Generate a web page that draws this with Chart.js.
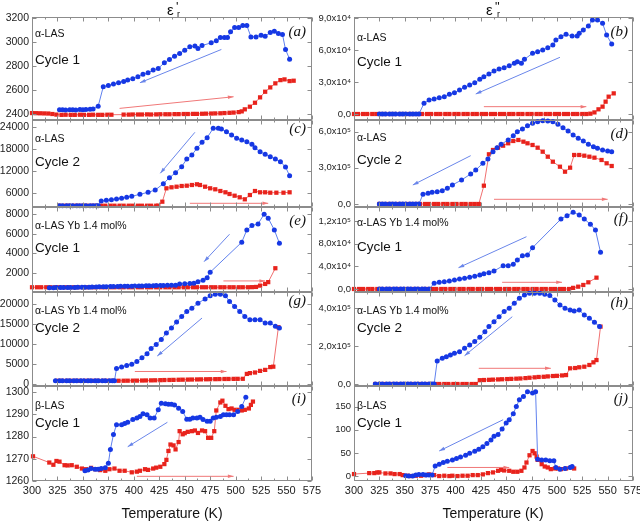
<!DOCTYPE html>
<html>
<head>
<meta charset="utf-8">
<script src="https://cdn.jsdelivr.net/npm/chart.js@4.4.0/dist/chart.umd.min.js"></script>
<style>
  body { margin: 0; background: #fff; overflow: hidden; font-family: "Liberation Sans", Arial, sans-serif; }
  #wrap { position: relative; width: 640px; height: 524px; overflow: hidden; }
  #wrap canvas { position: absolute; }
  .t { position: absolute; white-space: nowrap; color: #111; line-height: 1; }
  .it { font-family: "Liberation Serif", "Times New Roman", serif; font-style: italic; }
</style>
</head>
<body>
<div id="wrap"></div>
<script>
// temperature axis (K)
const tempTicks = [300, 325, 350, 375, 400, 425, 450, 475, 500, 525, 550, 575];

// (a) eps' alpha-LAS cycle 1
const blueA = [[327,2435],[330,2436],[333,2434],[337,2435],[340,2436],[343,2434],[347,2437],[350,2436],[353,2438],[357,2440],[360,2442],[365,2465],[370,2628],[375,2639],[380,2650],[385,2661],[390,2672],[394,2683],[399,2694],[404,2711],[409,2733],[414,2744],[419,2767],[424,2781],[430,2828],[435,2856],[440,2883],[445,2906],[450,2933],[455,2961],[460,2967],[463,2947],[467,2972],[476,2994],[481,3011],[485,3039],[489,3039],[492,3039],[495,3086],[499,3122],[503,3122],[507,3139],[511,3139],[515,3044],[520,3044],[525,3058],[529,3050],[534,3081],[538,3092],[542,3072],[546,3064],[549,2939],[553,2858]];
const redA = [[300,2408],[304,2407],[308,2406],[312,2405],[316,2404],[320,2400],[324,2395],[329,2393],[333,2394],[338,2393],[342,2393],[347,2394],[351,2393],[356,2393],[360,2394],[365,2393],[369,2393],[374,2394],[378,2394],[390,2395],[395,2395],[399,2396],[404,2396],[408,2396],[413,2397],[417,2396],[422,2397],[426,2398],[431,2398],[435,2398],[440,2399],[444,2399],[449,2400],[453,2400],[458,2401],[462,2401],[467,2402],[471,2403],[476,2404],[480,2405],[485,2406],[489,2408],[494,2410],[498,2412],[503,2416],[506,2422],[509,2439],[514,2461],[519,2494],[524,2539],[529,2586],[534,2622],[539,2656],[544,2683],[548,2689],[553,2675],[557,2678]];
const ticksA = [2400, 2600, 2800, 3000, 3200];
const labelsA = ['2400', '2600', '2800', '3000', '3200'];
const arrowsA = [[486,2939,406,2661,'b'],[386,2447,498,2544,'r']];

// (b) eps'' alpha-LAS cycle 1
const blueB = [[325,0],[328,0],[331,0],[335,0],[338,0],[341,0],[345,0],[348,0],[351,0],[355,0],[358,0],[361,0],[364,0],[369,10030],[374,13160],[379,14100],[384,15350],[389,16290],[394,18490],[399,20050],[404,22560],[409,25070],[414,27260],[419,29450],[424,32590],[428,35090],[433,37600],[438,40420],[443,42300],[448,43550],[453,45430],[458,47630],[461,49190],[465,47630],[468,51390],[476,57030],[481,58590],[486,60160],[491,62350],[496,64860],[499,69560],[504,72690],[509,74890],[515,73320],[520,73320],[522,75830],[526,78960],[531,82720],[535,88360],[540,88360],[545,85230],[549,74260],[554,65800]];
const redB = [[300,0],[304,0],[309,0],[313,0],[318,0],[322,0],[327,0],[331,0],[336,0],[340,0],[345,0],[349,0],[354,0],[358,0],[363,0],[367,0],[372,0],[376,0],[381,0],[385,0],[390,0],[394,0],[399,0],[403,0],[408,0],[412,0],[417,0],[421,0],[426,0],[430,0],[435,0],[439,0],[444,0],[448,0],[453,0],[457,0],[462,0],[466,0],[471,0],[475,0],[480,0],[484,0],[489,0],[493,0],[498,0],[502,0],[507,0],[511,0],[516,0],[520,0],[525,0],[529,0],[533,300],[537,1500],[541,4400],[545,6900],[548,11600],[551,16300],[556,19400]];
const ticksB = [0, 30000, 60000, 90000];
const labelsB = ['0,0', '3,0x10⁴', '6,0x10⁴', '9,0x10⁴'];
const arrowsB = [[503,53300,420,18800,'b'],[428,6900,529,6900,'r']];

// (c) eps' alpha-LAS cycle 2
const blueC = [[327,2450],[330,2450],[334,2450],[337,2450],[340,2450],[344,2450],[347,2450],[350,2450],[353,2450],[357,2450],[360,2450],[363,2450],[365,2450],[368,3747],[373,3939],[378,4105],[383,4297],[388,4489],[393,4764],[398,5039],[406,5589],[414,6138],[421,6770],[429,8502],[435,10151],[441,11524],[447,13173],[452,15289],[457,16388],[462,18229],[467,19878],[472,21142],[478,23725],[483,23725],[486,23533],[491,22791],[496,21884],[501,20977],[506,20510],[511,20043],[516,19328],[519,18394],[524,17295],[529,16580],[534,15921],[539,15289],[544,14547],[549,13091],[553,10700]];
const redC = [[327,2450],[332,2450],[336,2450],[341,2450],[345,2450],[350,2450],[354,2450],[359,2450],[363,2450],[368,2450],[372,2450],[377,2450],[381,2450],[386,2450],[390,2450],[395,2450],[399,2450],[404,2450],[408,2450],[413,2450],[417,2450],[422,2450],[424,2450],[428,3555],[432,7237],[437,7512],[442,7677],[447,7870],[452,7952],[457,8144],[462,8337],[465,8144],[470,7677],[475,7237],[480,6962],[485,6495],[490,6138],[494,5671],[499,5204],[504,4764],[509,4215],[514,5396],[519,6495],[524,6138],[529,6138],[534,6028],[540,6028],[547,6028],[553,6138]];
const ticksC = [6000, 12000, 18000, 24000];
const labelsC = ['6000', '12000', '18000', '24000'];
const arrowsC = [[460,22626,426,11359,'b'],[455,3115,532,3115,'r']];

// (d) eps'' alpha-LAS cycle 2
const blueD = [[325,0],[328,0],[331,0],[335,0],[338,0],[341,0],[345,0],[348,0],[351,0],[355,0],[358,0],[361,0],[364,0],[368,80400],[373,88700],[377,97000],[382,102000],[387,110200],[392,130100],[397,157500],[406,198900],[415,248600],[420,281800],[427,337300],[432,372900],[437,433400],[441,466500],[445,494700],[452,530400],[457,566000],[461,599200],[466,621500],[471,649000],[476,668700],[481,682000],[486,690300],[491,687800],[496,682000],[501,660500],[506,632300],[511,605000],[516,571800],[521,544500],[526,522100],[531,494700],[536,474800],[540,461600],[545,447500],[550,439200],[554,433400]];
const redD = [[325,0],[329,0],[334,0],[338,0],[343,0],[347,0],[352,0],[356,0],[361,0],[365,0],[370,0],[374,0],[379,0],[383,0],[388,0],[392,0],[397,0],[401,0],[406,0],[410,0],[415,0],[419,0],[423,0],[428,151700],[433,411900],[437,447500],[442,466500],[447,483100],[452,503000],[457,522100],[462,530400],[467,516300],[471,503000],[476,488900],[481,466500],[486,433400],[491,392000],[496,350500],[503,309100],[508,267700],[513,300800],[517,406100],[522,406100],[527,400300],[532,392000],[537,383700],[544,364600],[549,337300],[554,314900]];
const ticksD = [0, 300000, 600000];
const labelsD = ['0,0', '3,0x10⁵', '6,0x10⁵'];
const arrowsD = [[415,400300,358,157500,'b'],[438,38900,550,38900,'r']];

// (e) eps' alpha-LAS Yb 1.4 mol% cycle 1
const blueE = [[317,541],[321,541],[324,545],[328,548],[331,552],[335,556],[338,560],[342,565],[345,570],[349,575],[352,580],[356,590],[359,600],[363,610],[366,620],[370,630],[373,640],[377,650],[380,660],[384,665],[387,670],[391,680],[394,685],[398,690],[401,700],[405,705],[408,710],[412,720],[415,730],[419,740],[422,750],[426,760],[429,770],[433,780],[437,784],[441,790],[445,916],[450,930],[455,950],[459,987],[463,1149],[468,1300],[472,1554],[475,2100],[506,5136],[511,6381],[516,6818],[522,6988],[528,7970],[532,7565],[538,6381],[543,5035]];
const redE = [[300,580],[305,580],[309,580],[314,580],[318,580],[323,580],[327,580],[332,580],[336,580],[341,580],[345,580],[350,580],[354,580],[359,580],[363,580],[368,580],[372,580],[377,580],[381,580],[386,580],[390,580],[395,580],[399,580],[404,580],[408,580],[413,580],[417,580],[422,580],[426,580],[431,580],[435,580],[440,580],[444,580],[449,580],[453,580],[458,580],[462,580],[467,580],[471,580],[476,580],[480,580],[485,580],[489,580],[494,580],[498,580],[503,580],[507,580],[512,580],[516,590],[520,610],[524,744],[529,916],[532,1100],[539,2505]];
const ticksE = [2000, 4000, 6000, 8000];
const labelsE = ['2000', '4000', '6000', '8000'];
const arrowsE = [[494,5946,469,3173,'b'],[488,1220,529,1220,'r']];

// (f) eps'' alpha-LAS Yb 1.4 mol% cycle 1
const blueF = [[325,0],[328,0],[332,0],[335,0],[339,0],[342,0],[346,0],[349,0],[353,0],[356,0],[360,0],[363,0],[367,0],[370,0],[374,0],[379,10000],[384,11800],[389,12900],[394,14100],[399,15900],[404,17600],[409,18800],[414,20600],[419,22400],[424,24700],[428,27000],[433,28800],[438,31800],[447,41100],[452,41100],[457,43600],[461,51200],[466,58800],[471,60000],[476,72900],[504,123500],[510,129400],[516,135400],[522,130600],[527,123500],[533,114200],[538,104100],[543,64800]];
const redF = [[300,0],[305,0],[309,0],[314,0],[318,0],[323,0],[327,0],[332,0],[336,0],[341,0],[345,0],[350,0],[354,0],[359,0],[363,0],[368,0],[372,0],[377,0],[381,0],[386,0],[390,0],[395,0],[399,0],[404,0],[408,0],[413,0],[417,0],[422,0],[426,0],[431,0],[435,0],[440,0],[444,0],[449,0],[453,0],[458,0],[462,0],[467,0],[471,0],[476,0],[480,0],[485,0],[489,0],[494,0],[498,0],[503,0],[507,0],[512,0],[516,2000],[521,4100],[526,7100],[531,11800],[539,20000]];
const ticksF = [0, 40000, 80000, 120000];
const labelsF = ['0,0', '4,0x10⁴', '8,0x10⁴', '1,2x10⁵'];
const arrowsF = [[470,92300,403,37600,'b'],[446,11800,505,11800,'r']];

// (g) eps' alpha-LAS Yb 1.4 mol% cycle 2
const blueG = [[323,891],[327,891],[330,891],[334,891],[337,891],[341,891],[344,891],[348,891],[351,891],[355,891],[358,891],[362,891],[365,891],[369,891],[372,891],[376,891],[379,891],[381,891],[383,3943],[388,4337],[393,4680],[398,5000],[403,5664],[408,6648],[413,7631],[417,8934],[422,9918],[427,11148],[432,12795],[437,14025],[442,15500],[447,16877],[452,18107],[457,18943],[463,20172],[470,21230],[475,22041],[480,22385],[485,22385],[490,22041],[494,20566],[499,19336],[504,18107],[509,16877],[514,16066],[519,16066],[524,16066],[529,15254],[534,15254],[539,14418],[543,14025]];
const redG = [[325,891],[329,891],[334,891],[338,891],[343,891],[347,891],[352,891],[356,891],[361,891],[365,891],[370,891],[374,891],[379,891],[385,900],[390,910],[394,920],[399,930],[403,940],[408,960],[412,980],[417,1000],[421,1020],[426,1050],[430,1080],[435,1100],[439,1120],[444,1150],[448,1170],[453,1190],[457,1210],[462,1230],[466,1250],[471,1270],[475,1290],[480,1300],[484,1320],[489,1340],[493,1350],[498,1370],[502,1380],[507,1390],[511,2600],[514,2800],[519,2950],[524,3350],[529,3600],[534,4300],[537,4400],[542,14200]];
const ticksG = [0, 5000, 10000, 15000, 20000];
const labelsG = ['0', '5000', '10000', '15000', '20000'];
const arrowsG = [[467,16484,423,7041,'b'],[401,3205,491,3205,'r']];

// (h) eps'' alpha-LAS Yb 1.4 mol% cycle 2
const blueH = [[321,0],[325,0],[328,0],[332,0],[335,0],[339,0],[342,0],[346,0],[349,0],[353,0],[356,0],[360,0],[363,0],[367,0],[370,0],[374,0],[377,0],[379,0],[382,121000],[387,135000],[391,144000],[395,153000],[399,161500],[404,170000],[409,188000],[414,205000],[419,223000],[424,246000],[429,275000],[433,302000],[438,328000],[443,354000],[448,381000],[453,398000],[458,425000],[463,451000],[468,468000],[473,477000],[478,477000],[483,477000],[488,472000],[493,465000],[498,442000],[503,416000],[508,398000],[513,389000],[517,384000],[522,389000],[527,363000],[532,346000],[537,325000],[542,302000]];
const redH = [[321,0],[326,0],[330,0],[335,0],[339,0],[344,0],[348,0],[353,0],[357,0],[362,0],[366,0],[371,0],[375,0],[380,0],[384,0],[389,0],[393,0],[398,0],[402,0],[407,0],[411,0],[416,0],[420,0],[424,20000],[428,21000],[433,22000],[437,23000],[442,24000],[446,25000],[451,26000],[455,27000],[460,28000],[464,29000],[469,31000],[473,33000],[478,35000],[482,37000],[487,38000],[491,40000],[496,42000],[500,43000],[505,45000],[509,47000],[513,82600],[518,84000],[522,88000],[527,91000],[532,100000],[536,114000],[539,126000],[543,302000]];
const ticksH = [0, 200000, 400000];
const labelsH = ['0,0', '2,0x10⁵', '4,0x10⁵'];
const arrowsH = [[456,354000,409,149000,'b'],[423,82600,494,82600,'r']];

// (i) eps' beta-LAS cycle 1
const blueI = [[352,1264.6],[355,1264.9],[358,1265.6],[362,1265.3],[365,1265.3],[368,1265.6],[372,1266],[375,1268],[377,1274.2],[380,1280.9],[383,1285.3],[388,1285.3],[391,1285.8],[394,1286.4],[399,1287.6],[403,1288.3],[406,1289],[409,1290.2],[413,1289.8],[416,1288.3],[420,1288.3],[424,1292],[427,1295],[431,1294.7],[434,1294.5],[437,1294.5],[440,1294.2],[444,1292.7],[448,1291.2],[452,1287.8],[455,1287.8],[458,1288.3],[462,1288.3],[465,1288.7],[468,1287.6],[472,1286.8],[475,1286.8],[478,1288.3],[481,1288.6],[485,1289],[488,1289.8],[491,1289.8],[494,1289.8],[498,1289.8],[502,1291.2],[506,1293.5],[510,1297.6]];
const redI = [[301,1271.1],[317,1268.3],[321,1267.3],[324,1269],[327,1268.7],[332,1267.1],[335,1267],[339,1267.1],[344,1266.4],[349,1265.6],[353,1265.3],[358,1265.9],[362,1265.3],[367,1264.9],[372,1264.6],[376,1265.3],[381,1265.6],[386,1264.6],[391,1264.6],[398,1263.9],[403,1264.2],[406,1264.6],[411,1265.3],[414,1265],[419,1265.6],[422,1266],[426,1266.4],[430,1267.6],[432,1269.5],[434,1273.5],[436,1276.4],[439,1276],[441,1274.2],[444,1277.5],[445,1282.4],[448,1281],[450,1281.5],[453,1282.1],[457,1282.4],[460,1282.7],[463,1281.6],[467,1282.7],[470,1282.4],[473,1279.4],[476,1279.4],[479,1282.4],[481,1291.7],[485,1295.3],[487,1296.1],[490,1293.8],[493,1292.3],[496,1292.6],[499,1292],[503,1292],[506,1291.7],[509,1292],[513,1292.6],[515,1294.2],[517,1295.7]];
const ticksI = [1260, 1270, 1280, 1290, 1300];
const labelsI = ['1260', '1270', '1280', '1290', '1300'];
const arrowsI = [[433,1286.4,394,1275.4,'b'],[403,1262.1,498,1262.1,'r']];

// (j) eps'' beta-LAS cycle 1
const blueJ = [[351,0.7],[354,0],[358,0],[361,2.1],[364,3.6],[368,3.6],[371,2.1],[374,2.1],[377,2.1],[380,22],[384,25.7],[388,29.3],[392,32.1],[397,35],[401,37.9],[405,41.4],[410,45],[414,49.3],[419,53.6],[423,57.9],[427,63.6],[431,70.7],[435,77.9],[438,86.4],[442,90],[446,102.1],[450,115],[453,122.1],[457,135],[460,150.7],[463,165],[467,172.1],[471,182.8],[476,180],[479,182.8],[481,36.4],[485,35],[489,35],[493,32.9],[497,32.9],[499,18.6],[503,15],[508,16.4],[513,18.6],[515,20.7]];
const redJ = [[300,4.3],[315,6.4],[320,6.4],[323,7.9],[325,7.9],[331,5.7],[336,5.7],[340,4.3],[345,4.3],[348,2.1],[353,0.7],[356,0],[361,0.7],[366,0.7],[370,2.1],[374,3.6],[379,2.1],[384,0],[389,0.7],[394,0],[397,0.7],[402,0],[407,0.7],[412,0.7],[417,2.1],[422,2.1],[427,3.6],[432,6.4],[437,7.9],[442,11.4],[445,13.6],[448,12.1],[453,11.4],[457,9.3],[461,9.3],[465,11.4],[468,18.6],[470,29.3],[473,45],[476,54.3],[478,49.3],[480,42.1],[481,35],[485,25.7],[488,20.7],[491,18.6],[494,15],[498,16.4],[501,16.4],[504,15],[509,16.4],[514,18.6],[517,16.4]];
const ticksJ = [0, 50, 100, 150];
const labelsJ = ['0', '50', '100', '150'];
const arrowsJ = [[447,122,384,54.3,'b'],[392,18.6,453,18.6,'r']];

const panels = [
  { tag: '(a)', col: 0, row: 0, blue: blueA, red: redA, min: 2350, max: 3210, ticks: ticksA, labels: labelsA, arrows: arrowsA, name: 'α-LAS', cycle: 'Cycle 1' },
  { tag: '(b)', col: 1, row: 0, blue: blueB, red: redB, min: -5640, max: 91200, ticks: ticksB, labels: labelsB, arrows: arrowsB, name: 'α-LAS', cycle: 'Cycle 1' },
  { tag: '(c)', col: 0, row: 1, blue: blueC, red: redC, min: 2100, max: 26000, ticks: ticksC, labels: labelsC, arrows: arrowsC, name: 'α-LAS', cycle: 'Cycle 2' },
  { tag: '(d)', col: 1, row: 1, blue: blueD, red: redD, min: -24900, max: 696000, ticks: ticksD, labels: labelsD, arrows: arrowsD, name: 'α-LAS', cycle: 'Cycle 2' },
  { tag: '(e)', col: 0, row: 2, blue: blueE, red: redE, min: 100, max: 8700, ticks: ticksE, labels: labelsE, arrows: arrowsE, name: 'α-LAS Yb 1.4 mol%', cycle: 'Cycle 1' },
  { tag: '(f)', col: 1, row: 2, blue: blueF, red: redF, min: -5300, max: 144700, ticks: ticksF, labels: labelsF, arrows: arrowsF, name: 'α-LAS Yb 1.4 mol%', cycle: 'Cycle 1' },
  { tag: '(g)', col: 0, row: 3, blue: blueG, red: redG, min: -400, max: 22950, ticks: ticksG, labels: labelsG, arrows: arrowsG, name: 'α-LAS Yb 1.4 mol%', cycle: 'Cycle 2' },
  { tag: '(h)', col: 1, row: 3, blue: blueH, red: redH, min: -10500, max: 484000, ticks: ticksH, labels: labelsH, arrows: arrowsH, name: 'α-LAS Yb 1.4 mol%', cycle: 'Cycle 2' },
  { tag: '(i)', col: 0, row: 4, blue: blueI, red: redI, min: 1260, max: 1302.7, ticks: ticksI, labels: labelsI, arrows: arrowsI, name: 'β-LAS', cycle: 'Cycle 1' },
  { tag: '(j)', col: 1, row: 4, blue: blueJ, red: redJ, min: -10.7, max: 195, ticks: ticksJ, labels: labelsJ, arrows: arrowsJ, name: 'β-LAS', cycle: 'Cycle 1' }
];

// layout (pixels)
const rowTop = [17, 120, 207, 292, 386];
const rowBot = [120, 207, 292, 386, 481];
const canvasLeft = [0, 312];
const colLeft = [32, 354];
const colRight = [312, 633];
const BLUE = '#1638e4', BLUE_LINE = '#5f80ee';
const RED = '#e8231c', RED_LINE = '#f07070';
const ARROW = { b: '#6a86ea', r: '#f07878' };

const wrap = document.getElementById('wrap');

function text(html, x, y, size, cls, align) {
  const d = document.createElement('div');
  d.className = 't ' + (cls || '');
  d.innerHTML = html;
  d.style.fontSize = size + 'px';
  d.style.left = x + 'px';
  d.style.top = y + 'px';
  let tf = 'translateY(-50%)';
  if (align === 'center') tf += ' translateX(-50%)';
  if (align === 'right') tf += ' translateX(-100%)';
  d.style.transform = tf;
  wrap.appendChild(d);
}

const framePlugin = {
  id: 'frame',
  afterDatasetsDraw(chart, args, opts) {
    const { ctx, chartArea: a } = chart;
    const x = chart.scales.x, y = chart.scales.y;
    ctx.save();
    (opts.arrows || []).forEach(ar => {
      const x1 = x.getPixelForValue(ar[0]), y1 = y.getPixelForValue(ar[1]);
      const x2 = x.getPixelForValue(ar[2]), y2 = y.getPixelForValue(ar[3]);
      const c = ARROW[ar[4]];
      ctx.strokeStyle = c; ctx.fillStyle = c; ctx.lineWidth = 1;
      ctx.beginPath(); ctx.moveTo(x1, y1); ctx.lineTo(x2, y2); ctx.stroke();
      const ang = Math.atan2(y2 - y1, x2 - x1);
      ctx.beginPath();
      ctx.moveTo(x2, y2);
      ctx.lineTo(x2 - 6 * Math.cos(ang - 0.3), y2 - 6 * Math.sin(ang - 0.3));
      ctx.lineTo(x2 - 6 * Math.cos(ang + 0.3), y2 - 6 * Math.sin(ang + 0.3));
      ctx.closePath(); ctx.fill();
    });
    ctx.strokeStyle = '#8c8c8c';
    ctx.lineWidth = 1;
    const L = Math.round(a.left) + 0.5, T = Math.round(a.top) + 0.5;
    const R = Math.round(a.right) - 0.5, B = Math.round(a.bottom) - 0.5;
    ctx.strokeRect(L, T, R - L, B - T);
    ctx.beginPath();
    for (let v = 300; v <= 575; v += 12.5) {
      const px = Math.round(x.getPixelForValue(v)) + 0.5;
      const len = (v % 25 === 0) ? 4 : 2;
      ctx.moveTo(px, B); ctx.lineTo(px, B - len);
      ctx.moveTo(px, T); ctx.lineTo(px, T + len);
    }
    y.ticks.forEach(t => {
      const py = Math.round(y.getPixelForValue(t.value)) + 0.5;
      ctx.moveTo(L, py); ctx.lineTo(L + 4, py);
      ctx.moveTo(R, py); ctx.lineTo(R - 4, py);
    });
    ctx.stroke();
    ctx.restore();
  }
};

panels.forEach(p => {
  const last = p.row === 4;
  const left = canvasLeft[p.col];
  const width = p.col ? 338 : 330;
  const top = rowTop[p.row] - 8;
  const height = rowBot[p.row] - rowTop[p.row] + 8 + (last ? 22 : 8);
  const cv = document.createElement('canvas');
  cv.width = width; cv.height = height;
  cv.style.left = left + 'px'; cv.style.top = top + 'px';
  cv.style.width = width + 'px'; cv.style.height = height + 'px';
  wrap.appendChild(cv);

  const yWidth = colLeft[p.col] - left;
  const padRight = left + width - colRight[p.col];

  new Chart(cv, {
    type: 'scatter',
    data: {
      datasets: [
        {
          data: p.blue.map(([x, y]) => ({ x, y })),
          showLine: true, borderColor: BLUE_LINE, borderWidth: 1,
          pointStyle: 'circle', pointRadius: 2.5,
          pointBackgroundColor: BLUE, pointBorderColor: BLUE, pointBorderWidth: 0,
          clip: 4
        },
        {
          data: p.red.map(([x, y]) => ({ x, y })),
          showLine: true, borderColor: RED_LINE, borderWidth: 1,
          pointStyle: 'rect', pointRadius: 3,
          pointBackgroundColor: RED, pointBorderColor: RED, pointBorderWidth: 0,
          clip: 4
        }
      ]
    },
    options: {
      responsive: false,
      animation: false,
      events: [],
      layout: { padding: { top: 8, bottom: last ? 0 : 8, left: 0, right: padRight } },
      plugins: {
        legend: { display: false },
        tooltip: { enabled: false },
        frame: { arrows: p.arrows }
      },
      scales: {
        x: {
          type: 'linear', min: 300, max: 575,
          afterBuildTicks: s => { s.ticks = tempTicks.map(v => ({ value: v })); },
          ticks: {
            display: last, color: '#222', padding: 3, maxRotation: 0, autoSkip: false,
            font: { family: '"Liberation Sans", Arial, sans-serif', size: 11 },
            callback: v => String(v)
          },
          grid: { display: false, drawTicks: false },
          border: { display: false },
          afterFit: s => { s.height = last ? 22 : 0; s.paddingLeft = 0; s.paddingRight = 0; }
        },
        y: {
          type: 'linear', min: p.min, max: p.max,
          afterBuildTicks: s => { s.ticks = p.ticks.map(v => ({ value: v })); },
          ticks: {
            color: '#222', padding: 3,
            font: { family: '"Liberation Sans", Arial, sans-serif', size: p.col ? 9.5 : 10.5 },
            callback: (v, i) => p.labels[i]
          },
          grid: { display: false, drawTicks: false },
          border: { display: false },
          afterFit: s => { s.width = yWidth; s.paddingTop = 0; s.paddingBottom = 0; }
        }
      }
    },
    plugins: [framePlugin]
  });
});

// panel annotations
const nameY = [[33, 37], [138, 137], [225, 222], [310, 310], [405, 405]];
const cycleY = [[60, 62], [162, 160], [248, 247], [328, 328], [423, 423]];
const tagY = [[31, 31], [128, 133], [220, 218], [300, 302], [398, 398]];
panels.forEach(p => {
  const x0 = p.col ? 357 : 35;
  text(p.name, x0, nameY[p.row][p.col], 10.5);
  text(p.cycle, x0, cycleY[p.row][p.col], 13.5);
  text(p.tag, p.col ? 628 : 306, tagY[p.row][p.col], 15, 'it', 'right');
});

// column titles: epsilon' r and epsilon'' r
text('ε', 167, 9, 15);
text('\'', 176, 6, 13);
text('r', 177, 14, 9);
text('ε', 486, 9, 15);
text('"', 495, 6, 13);
text('r', 497, 14, 9);
text('Temperature (K)', 172, 513, 14, '', 'center');
text('Temperature (K)', 493, 513, 14, '', 'center');
</script>
</body>
</html>
